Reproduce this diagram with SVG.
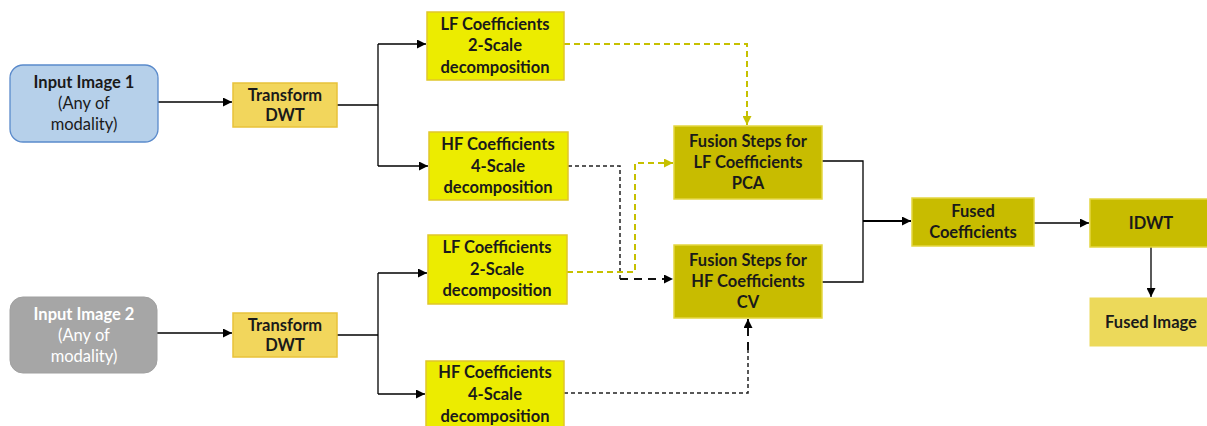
<svg xmlns="http://www.w3.org/2000/svg" width="1207" height="426" viewBox="0 0 1207 426">
<defs>
<style>
text{font-family:Lato,"Liberation Sans",sans-serif;font-size:16.5px;fill:#1a1a1a;text-anchor:middle;font-weight:700}
.reg{font-weight:400}
.w{fill:#ffffff}
.solid{fill:none;stroke:#000;stroke-width:1.3}
.thick{fill:none;stroke:#000;stroke-width:2}
.dk{fill:none;stroke:#222;stroke-width:1.5;stroke-dasharray:4 3}
.dk2{fill:none;stroke:#111;stroke-width:2;stroke-dasharray:8 6}
.yl{fill:none;stroke:#c6c000;stroke-width:2;stroke-dasharray:6 4}
.tf{fill:#f2d65c;stroke:#e8c23a;stroke-width:1.5}
.co{fill:#ecec00;stroke:#e0c62a;stroke-width:1.5}
.fu{fill:#c8bc00;stroke:#e4d640;stroke-width:1.5}
</style>
<marker id="ab" viewBox="0 0 10 10" refX="10" refY="5" markerWidth="9" markerHeight="9" markerUnits="userSpaceOnUse" orient="auto"><path d="M0,0L10,5L0,10z" fill="#000"/></marker>
<marker id="ay" viewBox="0 0 10 10" refX="10" refY="5" markerWidth="9" markerHeight="9" markerUnits="userSpaceOnUse" orient="auto"><path d="M0,0L10,5L0,10z" fill="#c6c000"/></marker>
</defs>

<g id="connectors">
<path class="solid" d="M158,102H232" marker-end="url(#ab)"/>
<path class="solid" d="M157,333H232" marker-end="url(#ab)"/>
<path class="solid" d="M337,105H378"/>
<path class="solid" d="M378,44V166"/>
<path class="solid" d="M378,44H426" marker-end="url(#ab)"/>
<path class="solid" d="M378,166H428" marker-end="url(#ab)"/>
<path class="solid" d="M337,335H378"/>
<path class="solid" d="M378,273V394"/>
<path class="solid" d="M378,273H427" marker-end="url(#ab)"/>
<path class="solid" d="M378,394H425" marker-end="url(#ab)"/>
<path class="yl" d="M564,44H747V125" marker-end="url(#ay)"/>
<path class="dk" d="M568,166H620V279"/>
<path class="dk2" d="M620,279H673" marker-end="url(#ab)"/>
<path class="yl" d="M567,272H635V163H673" marker-end="url(#ay)"/>
<path class="dk" d="M564,393H748V350"/>
<path class="dk2" d="M748,350V319" marker-end="url(#ab)"/>
<path class="solid" d="M822,161H863V282H822"/>
<path class="thick" d="M863,221H911" marker-end="url(#ab)"/>
<path class="solid" d="M1034,223H1089" marker-end="url(#ab)"/>
<path class="solid" d="M1151,247V297" marker-end="url(#ab)"/>
</g>

<g id="input1">
<rect x="10" y="65" width="148" height="77" rx="13" fill="#b6d0ea" stroke="#5a8acb" stroke-width="1.3"/>
<text x="84" y="88">Input Image 1</text>
<text class="reg" x="84" y="109">(Any of</text>
<text class="reg" x="84" y="130">modality)</text>
</g>
<g id="input2">
<rect x="10" y="297" width="147" height="76" rx="13" fill="#a6a6a6" stroke="#a0a0a0" stroke-width="1"/>
<text class="w" x="84" y="320">Input Image 2</text>
<text class="w reg" x="84" y="341">(Any of</text>
<text class="w reg" x="84" y="362">modality)</text>
</g>
<g id="dwt1">
<rect class="tf" x="233" y="83" width="104" height="44"/>
<text x="285" y="101">Transform</text>
<text x="285" y="121">DWT</text>
</g>
<g id="dwt2">
<rect class="tf" x="233" y="313" width="104" height="44"/>
<text x="285" y="331">Transform</text>
<text x="285" y="351">DWT</text>
</g>
<g id="lf1">
<rect class="co" x="427" y="12" width="137" height="68"/>
<text x="495" y="30">LF Coefficients</text>
<text x="495" y="51">2-Scale</text>
<text x="495" y="73">decomposition</text>
</g>
<g id="hf1">
<rect class="co" x="429" y="132" width="139" height="68"/>
<text x="498" y="150">HF Coefficients</text>
<text x="498" y="172">4-Scale</text>
<text x="498" y="193">decomposition</text>
</g>
<g id="lf2">
<rect class="co" x="428" y="235" width="139" height="69"/>
<text x="497" y="253">LF Coefficients</text>
<text x="497" y="275">2-Scale</text>
<text x="497" y="296">decomposition</text>
</g>
<g id="hf2">
<rect class="co" x="426" y="361" width="138" height="70"/>
<text x="495" y="378">HF Coefficients</text>
<text x="495" y="400">4-Scale</text>
<text x="495" y="422">decomposition</text>
</g>
<g id="fusionLF">
<rect class="fu" x="674" y="126" width="148" height="73"/>
<text x="748" y="147">Fusion Steps for</text>
<text x="748" y="168">LF Coefficients</text>
<text x="748" y="189">PCA</text>
</g>
<g id="fusionHF">
<rect class="fu" x="674" y="245" width="148" height="73"/>
<text x="748" y="266">Fusion Steps for</text>
<text x="748" y="287">HF Coefficients</text>
<text x="748" y="308">CV</text>
</g>
<g id="fused">
<rect class="fu" x="912" y="198" width="122" height="48"/>
<text x="973" y="217">Fused</text>
<text x="973" y="238">Coefficients</text>
</g>
<g id="idwt">
<rect class="fu" x="1090" y="199" width="120" height="48"/>
<text x="1151" y="229">IDWT</text>
</g>
<g id="fusedImage">
<rect x="1090" y="298" width="120" height="48" fill="#ecd95a" stroke="#ecd95a"/>
<text x="1151" y="328">Fused Image</text>
</g>
</svg>
